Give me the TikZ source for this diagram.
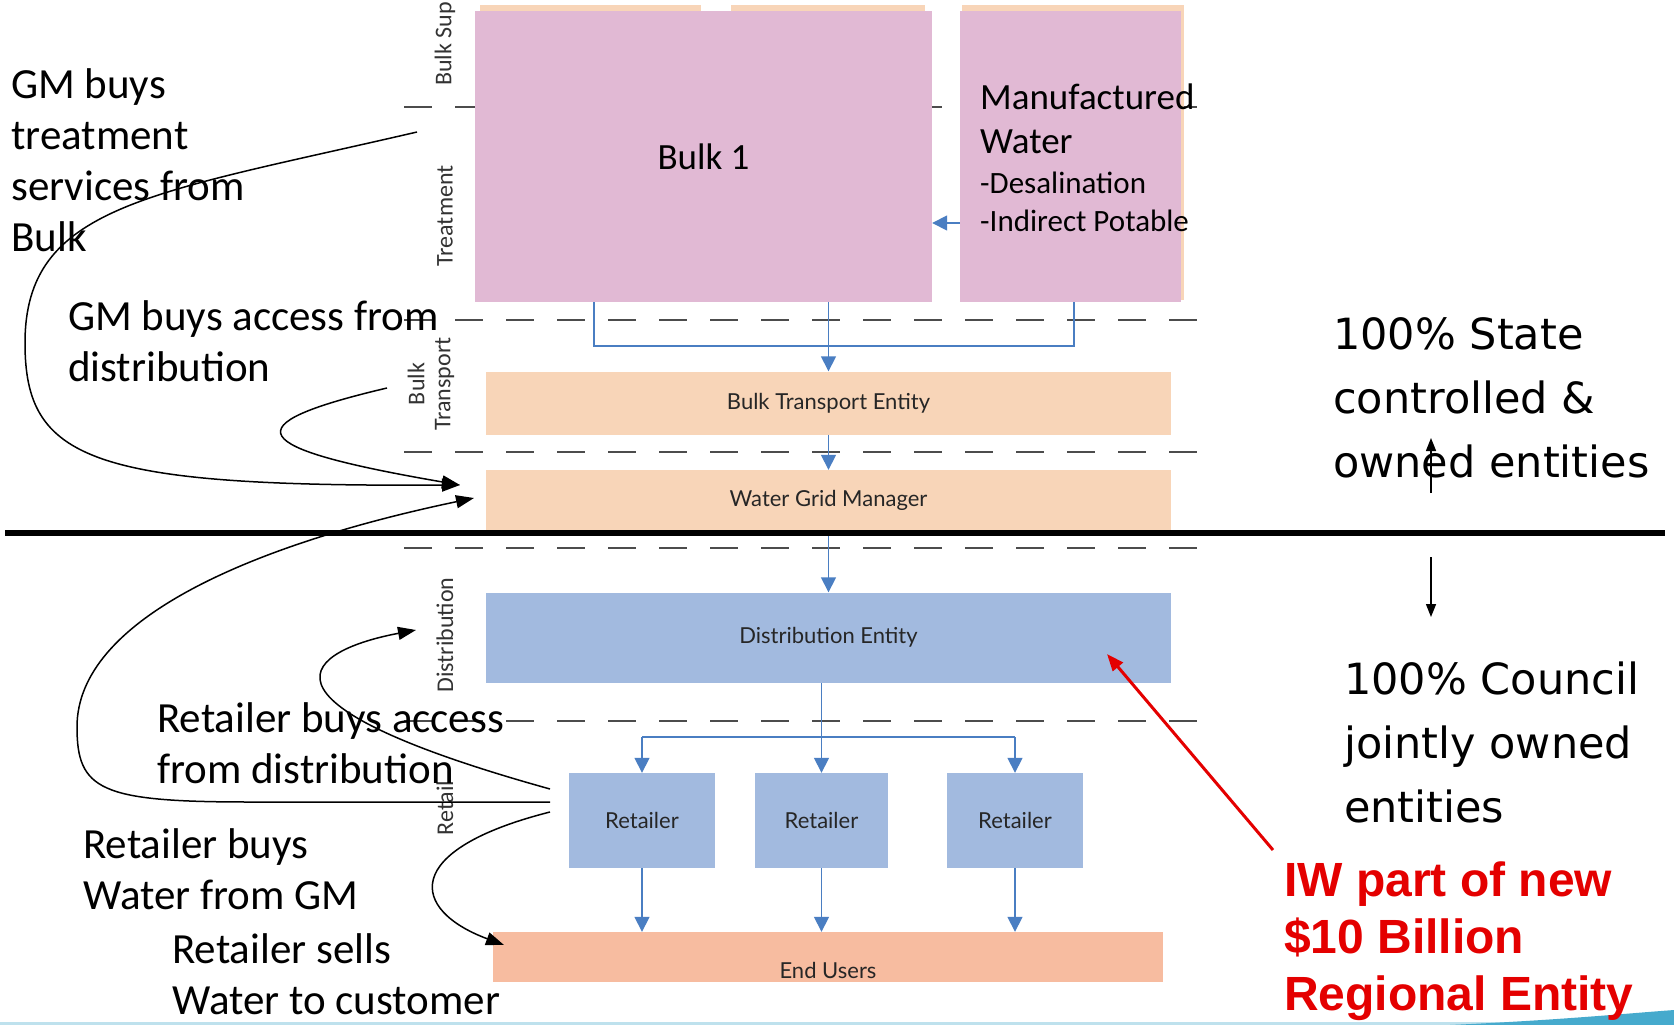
\documentclass[tikz,border=0pt]{standalone}
\usepackage{fontspec}
\setmainfont{Carlito}
\newfontfamily\dejavu{DejaVu Sans}
\newfontfamily\libsans{Liberation Sans}
\newfontfamily\lato{Lato}
\usetikzlibrary{arrows.meta,calc}
\definecolor{pinkc}{RGB}{225,185,212}
\definecolor{orc}{RGB}{248,213,184}
\definecolor{bluec}{RGB}{162,186,223}
\definecolor{salc}{RGB}{247,188,160}
\definecolor{linec}{RGB}{74,126,194}
\definecolor{redc}{RGB}{228,0,0}
\definecolor{swoosh}{RGB}{70,170,205}
\tikzset{
  pinkbox/.style={fill=pinkc, draw=none, inner sep=0pt},
  orbox/.style={fill=orc, draw=none, inner sep=0pt, font=\lato\fontsize{22}{26}\selectfont, text=black!85},
  bluebox/.style={fill=bluec, draw=none, inner sep=0pt, font=\lato\fontsize{22}{26}\selectfont, text=black!85},
  salbox/.style={fill=salc, draw=none, inner sep=0pt},
  boxlabel/.style={font=\lato\fontsize{22}{26}\selectfont, text=black!85, inner sep=0pt},
  dashln/.style={draw=black!70, line width=1.8pt, dash pattern=on 28pt off 23pt},
  bline/.style={draw=linec, line width=1.6pt},
  barrow/.style={bline, -{Triangle[width=15pt,length=15pt]}},
  carrow/.style={draw=black, line width=1.5pt, -{Triangle[width=13pt,length=18pt]}},
  smallarrow/.style={draw=black, line width=1.5pt, -{Triangle[width=10pt,length=13pt]}},
  redarrow/.style={draw=redc, line width=3pt, -{Triangle[width=13pt,length=17pt]}},
  side/.style={rotate=90, font=\fontsize{24}{26}\selectfont, text=black!80, inner sep=0pt},
  note/.style={font=\fontsize{43}{51}\selectfont, align=left, anchor=west, inner sep=0pt},
  rnote/.style={font=\dejavu\fontsize{43}{64}\selectfont, align=left, anchor=west, inner sep=0pt},
  rednote/.style={font=\libsans\bfseries\fontsize{48}{57}\selectfont, text=redc, align=left, anchor=west, inner sep=0pt}
}
\begin{document}
\begin{tikzpicture}[x=1pt,y=-1pt]
\useasboundingbox (0,0) rectangle (1674,1025);
\fill[white] (0,0) rectangle (1674,1025);

% bottom-right template swoosh
\fill[swoosh!35] (0,1022) rectangle (1674,1025);
\fill[swoosh] (1450,1025) .. controls (1560,1020) and (1620,1014) .. (1674,1010) -- (1674,1025) -- cycle;

% dashed band separators
\foreach \yy in {107,320,452,548,721}
  \draw[dashln] (404,\yy) -- (1201,\yy);

% orange boxes peeking behind the pink ones
\fill[orc] (480,5) rectangle (701,20);
\fill[orc] (731,5) rectangle (925,20);
\fill[orc] (962,5) rectangle (1184,300);

% pink boxes
\node[pinkbox, minimum width=457pt, minimum height=291pt, font=\fontsize{37}{44}\selectfont] (bulk1) at (703.5,156.5) {Bulk 1};
\node[pinkbox, minimum width=221pt, minimum height=291pt] (mw) at (1070.5,156.5) {};
\node[anchor=west, align=left, inner sep=0pt, font=\fontsize{37}{44}\selectfont] (mwt1) at (980,119) {Manufactured\\Water};
\node[anchor=west, align=left, inner sep=0pt, font=\fontsize{31}{38}\selectfont] (mwt2) at (980,202) {-Desalination\\-Indirect Potable};

% entity boxes
\node[orbox, minimum width=685pt, minimum height=63pt] (bte) at (828.5,403) {Bulk Transport Entity};
\node[orbox, minimum width=685pt, minimum height=60pt] (wgm) at (828.5,500) {Water Grid Manager};
\node[bluebox, minimum width=685pt, minimum height=90.5pt] (dist) at (828.5,637.75) {Distribution Entity};
\node[bluebox, minimum width=146pt, minimum height=95pt] (ret1) at (642,820.5) {Retailer};
\node[bluebox, minimum width=133pt, minimum height=95pt] (ret2) at (821.5,820.5) {Retailer};
\node[bluebox, minimum width=136pt, minimum height=95pt] (ret3) at (1015,820.5) {Retailer};
\node[salbox, minimum width=670pt, minimum height=50pt] (eu) at (828,957) {};
\node[boxlabel] (eut) at (828,970) {End Users};

% blue connectors
\draw[barrow] ([yshift=-66.5pt]mw.west) -- ([yshift=-66.5pt]bulk1.east);
\coordinate (jl) at (594,346);
\coordinate (jr) at (1074,346);
\draw[bline] (bulk1.south -| jl) -- (jl) -- (jr) -- (mw.south -| jr);
\draw[barrow] (bulk1.south -| bte.north) -- (bte.north);
\draw[barrow] (bte.south) -- (wgm.north);
\draw[barrow] (wgm.south) -- (dist.north);
\draw[barrow] (dist.south -| ret2.north) -- (ret2.north);
\coordinate (jt) at (0,737);
\draw[bline] (ret1.north |- jt) -- (ret3.north |- jt);
\draw[barrow] (ret1.north |- jt) -- (ret1.north);
\draw[barrow] (ret3.north |- jt) -- (ret3.north);
\foreach \r in {ret1,ret2,ret3}
  \draw[barrow] (\r.south) -- (\r.south |- eu.north);

% thick divider
\draw[line width=6.5pt] (5,533) -- (1665,533);

% side labels
\node[side, anchor=west] (lsup) at (445,86) {Bulk Sup};
\node[side] (ltreat) at (445,216) {Treatment};
\node[side, align=center] (ltrans) at (431,384) {Bulk\\Transport};
\node[side] (ldist) at (445,635) {Distribution};
\node[side] (lret) at (445,808) {Retail};

% left notes
\node[note] (t1) at (11,160) {GM buys\\treatment\\services from\\Bulk};
\node[note] (t2) at (68,341) {GM buys access from\\distribution};
\node[note] (t3) at (157,743) {Retailer buys access\\from distribution};
\node[note] (t4) at (83,869) {Retailer buys\\Water from GM};
\node[note] (t5) at (172,974) {Retailer sells\\Water to customer};

% right notes
\node[rnote] (s1) at (1333,398) {100\% State\\controlled \&\\owned entities};
\node[rnote] (s2) at (1344,742) {100\% Council\\jointly owned\\entities};
\node[rednote] (iw) at (1284,941) {IW part of new\\\$10 Billion\\Regional Entity};

% small ownership arrows
\coordinate (ua) at (1431,493); \coordinate (ub) at (1431,438);
\draw[smallarrow] (ua) -- (ub);
\coordinate (da) at (1431,557); \coordinate (db) at (1431,617);
\draw[smallarrow] (da) -- (db);

% red arrow
\coordinate (rs) at (1273,850); \coordinate (rt) at (1107,654);
\draw[redarrow] (rs) -- (rt);

% curved black arrows
\coordinate (c1s) at (417,132); \coordinate (c1e) at (460,485);
\draw[carrow] (c1s) .. controls (150,194) and (25,205) .. (25,343) .. controls (25,460) and (90,487) .. (c1e);
\coordinate (c2s) at (387,388);
\draw[carrow] (c2s) .. controls (230,425) and (245,448) .. (c1e);
\coordinate (c3s) at (550,789); \coordinate (c3e) at (416,630);
\draw[carrow] (c3s) .. controls (230,700) and (310,650) .. (c3e);
\coordinate (c4s) at (550,802); \coordinate (c4e) at (474,498);
\draw[carrow] (c4s) -- (250,802) .. controls (100,802) and (77,790) .. (77,727) .. controls (77,620) and (250,545) .. (c4e);
\coordinate (c5s) at (550,812); \coordinate (c5e) at (504,945);
\draw[carrow] (c5s) .. controls (400,850) and (410,910) .. (c5e);
\end{tikzpicture}
\end{document}
